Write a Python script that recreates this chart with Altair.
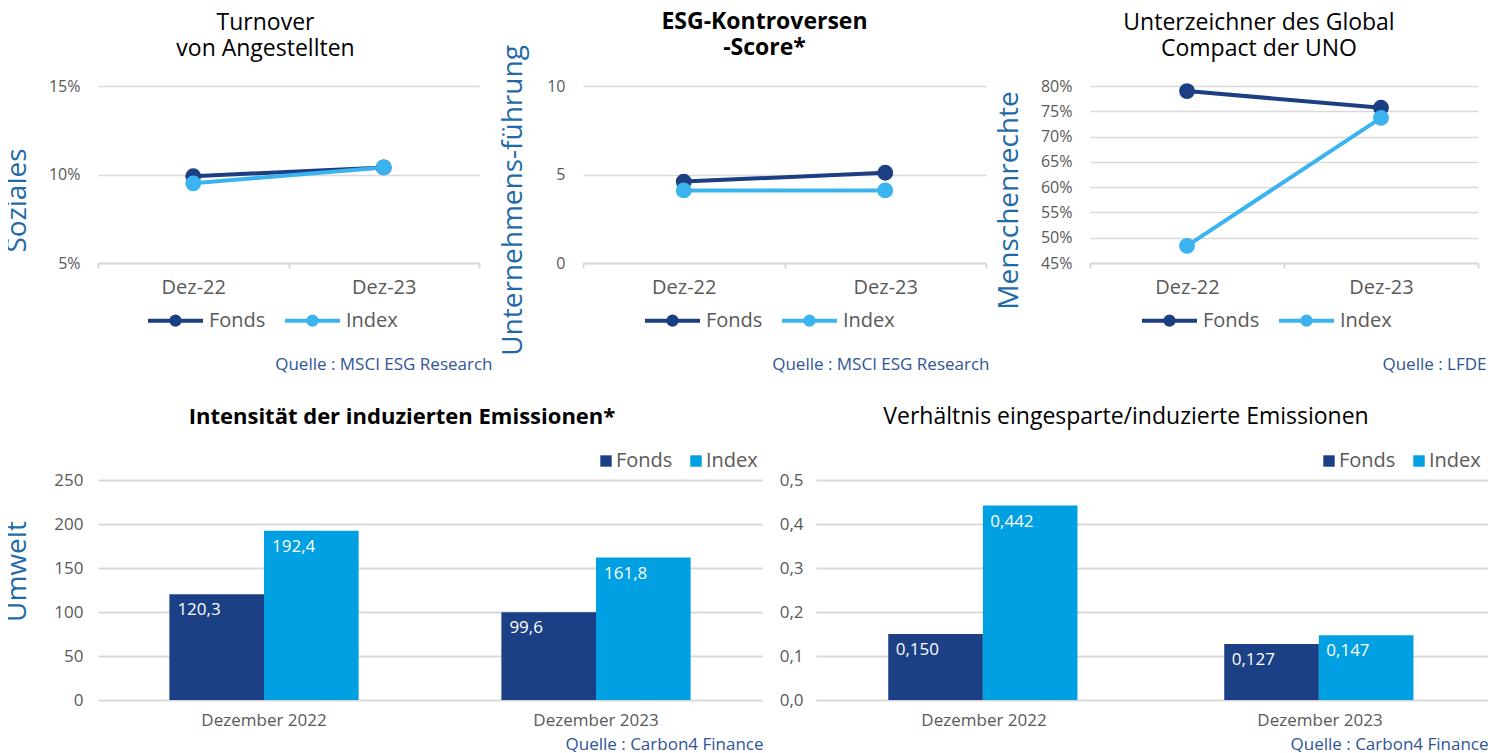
import altair as alt
import pandas as pd

FONT = "Open Sans"

# ---------------- data ----------------
dates = ["Dez-22", "Dez-23"]
series = ["Fonds", "Index"]
turnover_fonds = [9.9, 10.4]
turnover_index = [9.5, 10.4]
controv_fonds = [4.6, 5.1]
controv_index = [4.1, 4.1]
ungc_fonds = [79.0, 75.7]
ungc_index = [48.4, 73.7]

bar_periods = ["Dezember 2022", "Dezember 2023"]
intens_fonds = [120.3, 99.6]
intens_index = [192.4, 161.8]
ratio_fonds = [0.150, 0.127]
ratio_index = [0.442, 0.147]

# ---------------- style ----------------
C_FONDS_LINE = "#1c3f84"
C_INDEX_LINE = "#3bb3ee"
C_FONDS_BAR = "#1b4085"
C_INDEX_BAR = "#00a0e2"
C_AXISTITLE = "#1f6aa8"
C_SOURCE = "#2f5597"
C_LABEL = "#595959"
C_GRID = "#d9d9d9"

LEGEND_PATH = "M-1,0L1,0M0.15,0A0.15,0.15,0,1,1,-0.15,0A0.15,0.15,0,1,1,0.15,0Z"

TOP_H = 177
BOT_H = 220


def long_df(cats, fonds, index, catname):
    rows = []
    for c, f, i in zip(cats, fonds, index):
        rows.append({catname: c, "Serie": "Fonds", "Wert": f})
        rows.append({catname: c, "Serie": "Index", "Wert": i})
    return pd.DataFrame(rows)


def line_panel(df, title_text, bold, ytitle, ytitle_x, domain, ticks, pct,
               width, source, source_x, title_dx, title_dy, legend_x):
    color = alt.Color(
        "Serie:N",
        sort=series,
        scale=alt.Scale(domain=series, range=[C_FONDS_LINE, C_INDEX_LINE]),
        legend=alt.Legend(
            title=None, orient="none", direction="horizontal",
            legendX=legend_x, legendY=205,
            symbolType=LEGEND_PATH, symbolSize=3025, symbolStrokeWidth=4,
            labelFont=FONT, labelFontSize=20, labelColor=C_LABEL,
            labelOffset=4, columnPadding=11,
        ),
    )
    x = alt.X(
        "Datum:N", sort=dates,
        scale=alt.Scale(paddingInner=0, paddingOuter=0),
        axis=alt.Axis(
            title=source, titleAnchor="end", titleAlign="right", titleX=source_x,
            titleY=106, titleBaseline="alphabetic", titleFont=FONT,
            titleFontSize=17, titleFontWeight="normal", titleColor=C_SOURCE,
            labelAngle=0, labelFont=FONT, labelFontSize=20, labelColor=C_LABEL,
            labelPadding=9, tickBand="extent", tickColor=C_GRID, tickSize=5,
            tickWidth=2, domainColor=C_GRID, domainWidth=2, grid=False,
        ),
    )
    y = alt.Y(
        "Wert:Q",
        scale=alt.Scale(domain=domain, nice=False, zero=False),
        axis=alt.Axis(
            values=ticks,
            labelExpr="datum.value + '%'" if pct else "datum.value + ''",
            labelOverlap=False,
            title=ytitle, titleFont=FONT, titleFontSize=28, titleFontWeight="normal",
            titleColor=C_AXISTITLE, titleX=ytitle_x, titleY=114,
            titleBaseline="alphabetic", titleAlign="center", titleLimit=1000,
            domain=False, ticks=False, grid=True, gridColor=C_GRID, gridWidth=1.5,
            labelFont=FONT, labelFontSize=16, labelColor=C_LABEL, labelPadding=18,
        ),
    )
    base = alt.Chart(df).encode(x=x, y=y, color=color)
    chart = (base.mark_line(strokeWidth=4) +
             base.mark_point(filled=True, size=250, opacity=1))
    return chart.properties(
        width=width, height=TOP_H,
        title=alt.TitleParams(
            text=title_text, font=FONT, fontSize=23,
            fontWeight="bold" if bold else "normal", color="#000000",
            anchor="middle", dx=title_dx, dy=title_dy, lineHeight=26, offset=10,
        ),
    )


def bar_panel(df, title_text, bold, ytitle, ytitle_x, domain, ticks, yfmt, vfmt,
              width, source, source_x, title_dx, title_dy, legend_x, ylab_pad):
    color = alt.Color(
        "Serie:N", sort=series,
        scale=alt.Scale(domain=series, range=[C_FONDS_BAR, C_INDEX_BAR]),
        legend=alt.Legend(
            title=None, orient="none", direction="horizontal",
            legendX=legend_x, legendY=-29, symbolType="square", symbolSize=130,
            symbolStrokeWidth=0, labelFont=FONT, labelFontSize=20,
            labelColor=C_LABEL, labelOffset=0, columnPadding=13,
        ),
    )
    x = alt.X(
        "Periode:N", sort=bar_periods,
        scale=alt.Scale(paddingInner=0.43, paddingOuter=0.215),
        axis=alt.Axis(
            title=source, titleAnchor="end", titleAlign="right", titleX=source_x,
            titleY=49, titleBaseline="alphabetic", titleFont=FONT,
            titleFontSize=17, titleFontWeight="normal", titleColor=C_SOURCE,
            labelAngle=0, labelFont=FONT, labelFontSize=17, labelColor=C_LABEL,
            labelPadding=12, ticks=False, domain=False, grid=False,
        ),
    )
    yaxis_kwargs = dict(
        values=ticks,
        labelExpr="replace(format(datum.value, '%s'), '.', ',')" % yfmt,
        labelOverlap=False,
        domain=False, ticks=False, grid=True, gridColor=C_GRID, gridWidth=2,
        labelFont=FONT, labelFontSize=17, labelColor=C_LABEL, labelPadding=ylab_pad,
    )
    if ytitle:
        yaxis_kwargs.update(
            title=ytitle, titleFont=FONT, titleFontSize=28, titleFontWeight="normal",
            titleColor=C_AXISTITLE, titleX=ytitle_x, titleY=91,
            titleBaseline="alphabetic", titleAlign="center", titleLimit=1000,
        )
    else:
        yaxis_kwargs.update(title=None)
    y = alt.Y("Wert:Q", scale=alt.Scale(domain=domain, nice=False),
              axis=alt.Axis(**yaxis_kwargs))
    xo = alt.XOffset("Serie:N", sort=series,
                     scale=alt.Scale(paddingInner=0, paddingOuter=0))
    base = alt.Chart(df).transform_calculate(
        Label="replace(format(datum.Wert, '%s'), '.', ',')" % vfmt
    ).encode(x=x, xOffset=xo, y=y)
    bars = base.mark_bar().encode(color=color)
    band = width / 2 * 0.57 / 2
    labels = base.mark_text(
        align="left", baseline="middle", dx=-band / 2 + 8, dy=16,
        color="white", font=FONT, fontSize=17,
    ).encode(text="Label:N")
    return (bars + labels).properties(
        width=width, height=BOT_H,
        title=alt.TitleParams(
            text=title_text, font=FONT, fontSize=22 if bold else 23,
            fontWeight="bold" if bold else "normal", color="#000000",
            anchor="middle", dx=title_dx, dy=title_dy, offset=10,
        ),
    )


p1 = line_panel(long_df(dates, turnover_fonds, turnover_index, "Datum"),
                ["Turnover", "von Angestellten"], False, "Soziales", -73,
                [5, 15], [5, 10, 15], True, 381,
                "Quelle : MSCI ESG Research", 394, -23, -7, 48)
p2 = line_panel(long_df(dates, controv_fonds, controv_index, "Datum"),
                ["ESG-Kontroversen", "-Score*"], True, "Unternehmens-führung", -62,
                [0, 10], [0, 5, 10], False, 403,
                "Quelle : MSCI ESG Research", 406, -20, 25, 60)
p3 = line_panel(long_df(dates, ungc_fonds, ungc_index, "Datum"),
                ["Unterzeichner des Global", "Compact der UNO"], False,
                "Menschenrechte", -73,
                [45, 80], [45, 50, 55, 60, 65, 70, 75, 80], True, 388,
                "Quelle : LFDE", 396, -25, -7, 50)

p4 = bar_panel(long_df(bar_periods, intens_fonds, intens_index, "Periode"),
               "Intensität der induzierten Emissionen*", True, "Umwelt", -73,
               [0, 250], [0, 50, 100, 150, 200, 250], ".0f", ".1f", 664,
               "Quelle : Carbon4 Finance", 665, -28, -12, 498, 15)
p5 = bar_panel(long_df(bar_periods, ratio_fonds, ratio_index, "Periode"),
               "Verhältnis eingesparte/induzierte Emissionen", False, None, 0,
               [0, 0.5], [0, 0.1, 0.2, 0.3, 0.4, 0.5], ".1f", ".3f", 672,
               "Quelle : Carbon4 Finance", 672, -26, -12, 503, 13)

top = alt.hconcat(p1, p2, p3, spacing=104, bounds="flush").resolve_scale(
    x="independent", y="independent", color="independent").resolve_legend(color="independent")
bottom = alt.hconcat(p4, p5, spacing=54, bounds="flush").resolve_scale(
    x="independent", y="independent", color="independent").resolve_legend(color="independent")

chart = alt.vconcat(top, bottom, spacing=34).resolve_scale(
    x="independent", y="independent", color="independent").resolve_legend(
    color="independent").properties(
    padding={"left": -6, "top": 2, "right": 0, "bottom": 0}
).configure_view(stroke=None)

chart.save("out.html", embed_options={"renderer": "svg", "actions": False})
